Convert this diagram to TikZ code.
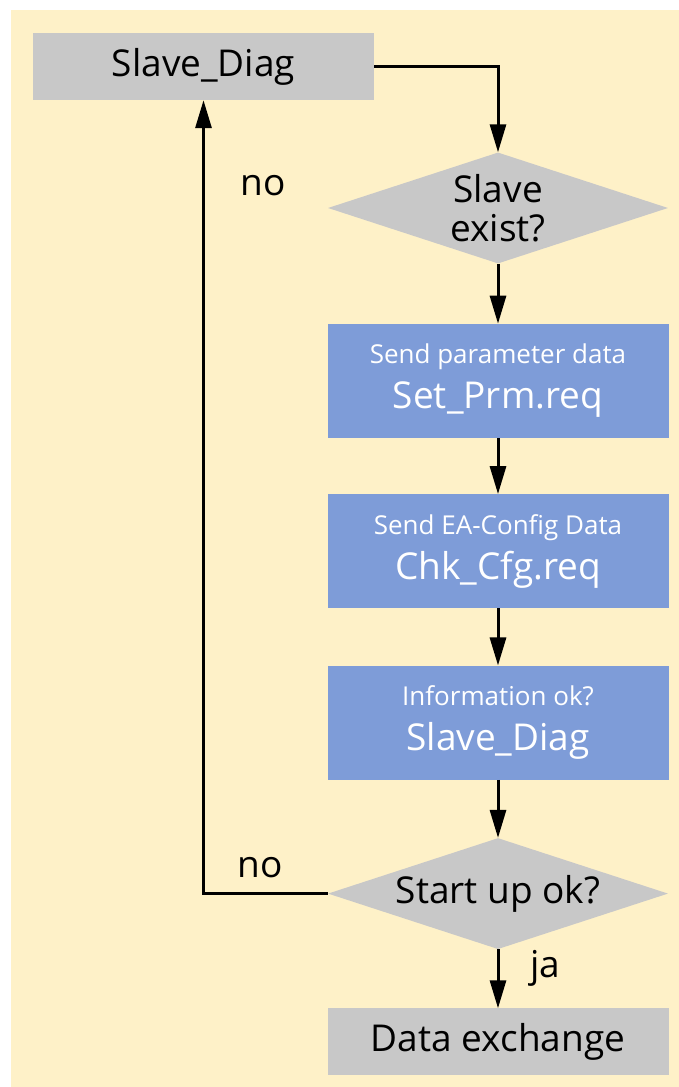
\documentclass[tikz,border=0pt]{standalone}
\usepackage{fontspec}
\setmainfont{Open Sans}
\usetikzlibrary{arrows.meta,positioning,shapes.geometric}
\definecolor{cream}{HTML}{FEF1C8}
\definecolor{boxgray}{HTML}{C8C8C8}
\definecolor{boxblue}{HTML}{7E9CD8}
\newcommand{\bigtxt}{\fontsize{37}{42}\selectfont}
\newcommand{\smalltxt}{\fontsize{26}{30}\selectfont}
\tikzset{
    graybox/.style={rectangle, fill=boxgray, minimum width=341pt,
        minimum height=67pt, inner sep=0pt, font=\bigtxt},
    bluebox/.style={rectangle, fill=boxblue, minimum width=341pt,
        minimum height=114pt, inner sep=0pt, align=center, text=white,
        font=\bigtxt},
    decision/.style={diamond, fill=boxgray, minimum width=340pt,
        minimum height=111pt, inner sep=0pt},
    lbl/.style={font=\bigtxt},
    arrow/.style={-{Triangle[length=28pt,width=16pt]}, line width=3pt}
}

\begin{document}
\begin{tikzpicture}[x=1pt,y=1pt]
    \useasboundingbox (0,0) rectangle (679,1087);
    \fill[cream] (11,0) rectangle (679,1077);

    \node[graybox] (diag) at (203.5,1020.5) {Slave\_Diag};
    \node[decision] (exist) at (498,879) {};
    \node[align=center, font=\bigtxt, inner sep=0pt] (exist-txt) at (exist)
        {Slave\\[-3pt]exist?};
    \node[bluebox] (prm) [below=60pt of exist]
        {{\smalltxt Send parameter data}\\[3pt]Set\_Prm.req};
    \node[bluebox] (cfg) [below=56pt of prm]
        {{\smalltxt Send EA-Config Data}\\[3pt]Chk\_Cfg.req};
    \node[bluebox] (info) [below=57pt of cfg]
        {{\smalltxt Information ok?}\\[3pt]Slave\_Diag};
    \node[decision] (start) [below=58pt of info] {};
    \node[font=\bigtxt, inner sep=0pt] (start-txt) at (start) {Start up ok?};
    \node[graybox] (xchg) [below=59pt of start] {Data exchange};

    \node[lbl] (no-top) at (263,901) {no};
    \node[lbl] (no-bot) at (260,219) {no};
    \node[lbl] (ja) at (545,119) {ja};

    \draw[arrow] (diag.east) -| (exist.north);
    \draw[arrow] (exist) -- (prm);
    \draw[arrow] (prm) -- (cfg);
    \draw[arrow] (cfg) -- (info);
    \draw[arrow] (info) -- (start);
    \draw[arrow] (start) -- (xchg);
    \draw[arrow] (start.west) -| (diag.south);
\end{tikzpicture}
\end{document}
